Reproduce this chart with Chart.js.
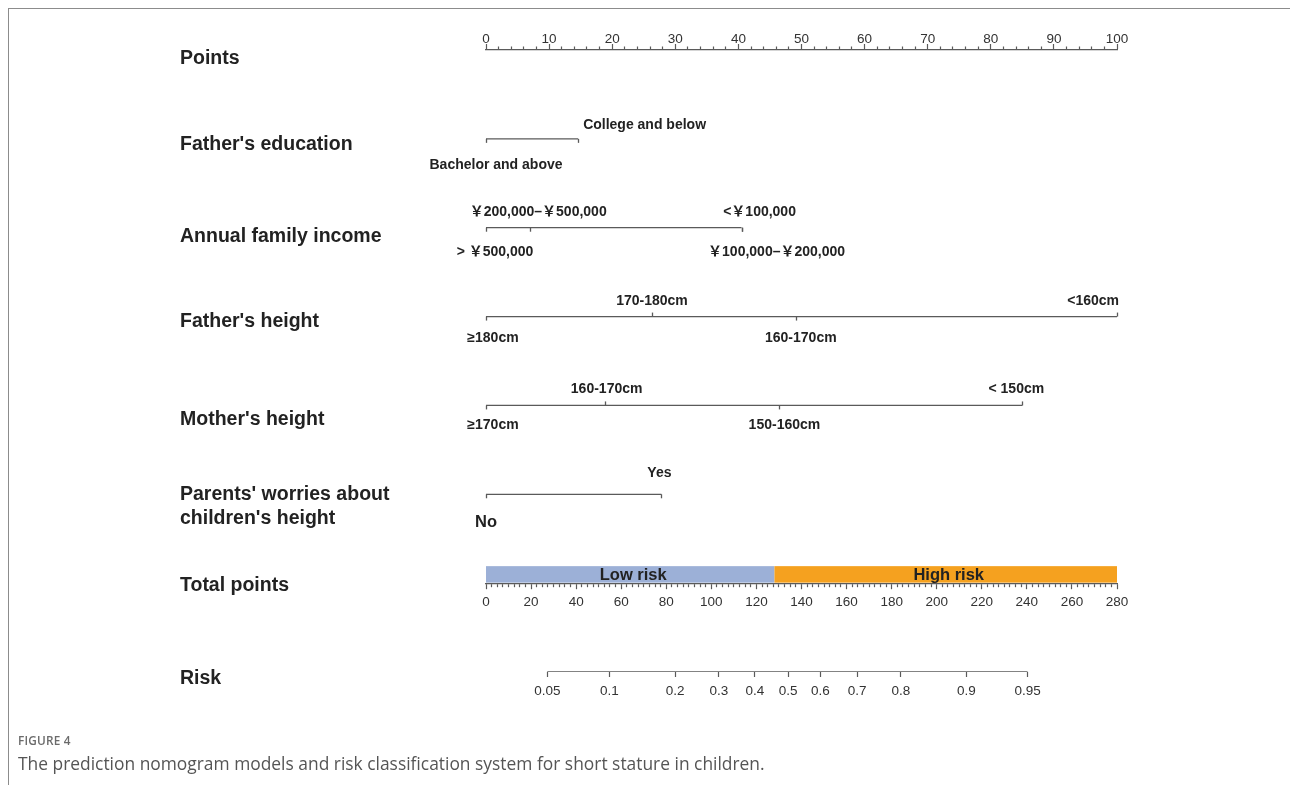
<!DOCTYPE html>
<html>
<head>
<meta charset="utf-8">
<script src="https://cdn.jsdelivr.net/npm/chart.js@4.4.1/dist/chart.umd.min.js"></script>
<style>
html,body{margin:0;padding:0;background:#fff;}
#wrap{position:relative;width:1290px;height:785px;overflow:hidden;background:#fff;}
#frame{position:absolute;left:8px;top:8px;width:1300px;height:800px;border-left:1px solid #8c8c8c;border-top:1px solid #8c8c8c;box-sizing:border-box;}
#c{position:absolute;left:0;top:0;}
#fig{position:absolute;left:18px;top:732px;font-family:"Open Sans",sans-serif;font-weight:600;font-size:11.8px;color:#6b6b6b;letter-spacing:0.2px;white-space:nowrap;}
#cap{position:absolute;left:18px;top:751px;font-family:"Open Sans",sans-serif;font-size:17.4px;color:#555;white-space:nowrap;}
</style>
</head>
<body>
<div id="wrap">
  <div id="frame"></div>
  <canvas id="c" width="1290" height="785"></canvas>
  <div id="fig">FIGURE 4</div>
  <div id="cap">The prediction nomogram models and risk classification system for short stature in children.</div>
</div>
<script>
// ---------------- data ----------------
const rowNames = ["Points", "Father's education", "Annual family income", "Father's height",
  "Mother's height", ["Parents' worries about", "children's height"], "Total points", "Risk"];

const eduLevels = ["Bachelor and above", "College and below"];
const eduPoints = [0, 14.6];

const incomeLevels = ["> ￥500,000", "￥200,000–￥500,000", "￥100,000–￥200,000", "<￥100,000"];
const incomePoints = [0, 7.0, 40.5, 40.5];

const fatherHeightLevels = ["≥180cm", "170-180cm", "160-170cm", "<160cm"];
const fatherHeightPoints = [0, 26.3, 49.1, 100];

const motherHeightLevels = ["≥170cm", "160-170cm", "150-160cm", "< 150cm"];
const motherHeightPoints = [0, 18.8, 46.5, 85.0];

const worryLevels = ["No", "Yes"];
const worryPoints = [0, 27.8];

const pointsMax = 100;
const totalPointsMax = 280;
const riskCutoff = 128;
const riskGroups = ["Low risk", "High risk"];

const riskLabels = ["0.05", "0.1", "0.2", "0.3", "0.4", "0.5", "0.6", "0.7", "0.8", "0.9", "0.95"];
const riskTotalPoints = [27.2, 54.7, 83.9, 103.3, 119.3, 134.1, 148.4, 164.7, 184.1, 213.2, 240.3];

// ---------------- styling (not data) ----------------
const LINE = '#5a5a5a';
const TEXT = '#222222';
const NUMFONT = {family: 'Liberation Sans', size: 13.5};
const ROW_LABEL_NUDGE = [9, 6, 9, 5, 14, 12, 2, 7];   // px, vertical placement of row titles
const ROW_PX = 88.857;                                 // px per row (used only for title nudges)
const levelRows = [
  {row: 1, levels: eduLevels, pts: eduPoints,
   side: ['b', 'a'], dir: ['d', 'd'], align: ['center', 'left'], nudge: [10, 5], dy: {a: -14, b: 26}},
  {row: 2, levels: incomeLevels, pts: incomePoints,
   side: ['b', 'a', 'b', 'a'], dir: ['d', 'd', 'd', 'd'], align: ['center', 'center', 'center', 'center'], nudge: [9, 8, 35, 18], dy: {a: -16, b: 24}},
  {row: 3, levels: fatherHeightLevels, pts: fatherHeightPoints,
   side: ['b', 'a', 'b', 'a'], dir: ['d', 'u', 'd', 'u'], align: ['center', 'center', 'center', 'right'], nudge: [7, 0, 5, 2], dy: {a: -15, b: 22}},
  {row: 4, levels: motherHeightLevels, pts: motherHeightPoints,
   side: ['b', 'a', 'b', 'a'], dir: ['d', 'u', 'd', 'u'], align: ['center', 'center', 'center', 'center'], nudge: [7, 2, 5, -6], dy: {a: -16, b: 20}},
  {row: 5, levels: worryLevels, pts: worryPoints,
   side: ['b', 'a'], dir: ['d', 'd'], align: ['center', 'center'], nudge: [0, -2], dy: {a: -21, b: 28}, sizes: [16.5, 14]}
];

// ---------------- datasets ----------------
const datasets = levelRows.map(r => ({
  data: [{x: Math.min(...r.pts), y: r.row}, {x: Math.max(...r.pts), y: r.row}],
  xAxisID: 'x', yAxisID: 'y',
  borderColor: LINE, borderWidth: 1.3, pointRadius: 0, fill: false
}));
datasets.push({
  data: [{x: riskTotalPoints[0], y: 7}, {x: riskTotalPoints[riskTotalPoints.length - 1], y: 7}],
  xAxisID: 'xt', yAxisID: 'y',
  borderColor: LINE, borderWidth: 1.3, pointRadius: 0, fill: false
});

// ---------------- plugin for labels / risk bar ----------------
const nomoPlugin = {
  id: 'nomo',
  beforeDatasetsDraw(chart) {
    const ctx = chart.ctx, xt = chart.scales.xt, y = chart.scales.y;
    const yb = y.getPixelForValue(6);
    const h = 17;
    const bounds = [0, riskCutoff, totalPointsMax];
    const cols = ['#9cb0d7', '#f5a11f'];
    ctx.save();
    for (let i = 0; i < 2; i++) {
      const x0 = xt.getPixelForValue(bounds[i]), x1 = xt.getPixelForValue(bounds[i + 1]);
      ctx.fillStyle = cols[i];
      ctx.fillRect(x0, yb - h, x1 - x0, h - 0.5);
    }
    ctx.fillStyle = TEXT;
    ctx.font = 'bold 16.5px "Liberation Sans"';
    ctx.textAlign = 'center';
    ctx.textBaseline = 'middle';
    for (let i = 0; i < 2; i++) {
      const xm = xt.getPixelForValue((bounds[i] + bounds[i + 1]) / 2);
      ctx.fillText(riskGroups[i], xm + 3, yb - h / 2 + 1);
    }
    ctx.restore();
  },
  afterDatasetsDraw(chart) {
    const ctx = chart.ctx, xs = chart.scales.x, y = chart.scales.y;
    ctx.save();
    ctx.strokeStyle = LINE;
    ctx.lineWidth = 1.3;
    ctx.fillStyle = TEXT;
    ctx.textBaseline = 'middle';
    levelRows.forEach(r => {
      const py = y.getPixelForValue(r.row);
      r.pts.forEach((p, i) => {
        const px = Math.round(xs.getPixelForValue(p)) + 0.5;
        const tl = 4;
        ctx.beginPath();
        ctx.moveTo(px, py);
        ctx.lineTo(px, r.dir[i] === 'u' ? py - tl : py + tl);
        ctx.stroke();
        const size = r.sizes ? r.sizes[i] : 14;
        ctx.font = 'bold ' + size + 'px "Liberation Sans", "Noto Sans CJK SC"';
        ctx.textAlign = r.align[i];
        const ly = py + (r.side[i] === 'a' ? r.dy.a : r.dy.b);
        ctx.fillText(r.levels[i], xs.getPixelForValue(p) + r.nudge[i], ly);
      });
    });
    ctx.restore();
  }
};

new Chart(document.getElementById('c'), {
  type: 'line',
  data: {datasets},
  plugins: [nomoPlugin],
  options: {
    responsive: false,
    animation: false,
    devicePixelRatio: 1,
    layout: {padding: {left: 180, right: 173, top: 10, bottom: 113}},
    plugins: {legend: {display: false}, tooltip: {enabled: false}},
    scales: {
      x: {
        type: 'linear', position: 'top', min: 0, max: pointsMax,
        afterFit: s => { s.height = 40; },
        border: {display: true, color: LINE, width: 1.3},
        grid: {
          drawOnChartArea: false, tickLength: 6, tickColor: LINE, tickWidth: 1.2,
          tickBorderDash: c => (c.tick && c.tick.value % 10 === 0) ? [] : [0, 2.5, 20]
        },
        ticks: {
          stepSize: 2, autoSkip: false, maxRotation: 0, padding: -3, color: '#333', font: NUMFONT,
          callback: v => (v % 10 === 0 ? String(v) : '')
        }
      },
      xt: {
        type: 'linear', axis: 'x', position: {y: 6}, min: 0, max: totalPointsMax,
        border: {display: true, color: LINE, width: 1.2},
        grid: {
          drawOnChartArea: false, tickLength: 5, tickColor: LINE, tickWidth: 1.2,
          tickBorderDash: c => (c.tick && c.tick.value % 20 === 0) ? [] : [3, 20]
        },
        ticks: {
          stepSize: 2.5, autoSkip: false, maxRotation: 0, padding: 6, color: '#333', font: NUMFONT,
          callback: v => (v % 20 === 0 ? String(v) : '')
        }
      },
      xr: {
        type: 'linear', axis: 'x', position: {y: 7}, min: 0, max: totalPointsMax,
        afterBuildTicks: s => { s.ticks = riskTotalPoints.map(v => ({value: v})); },
        border: {display: false},
        grid: {drawOnChartArea: false, tickLength: 5, tickColor: LINE, tickWidth: 1.2},
        ticks: {
          autoSkip: false, maxRotation: 0, padding: 6, color: '#333', font: NUMFONT,
          callback: (v, i) => riskLabels[i]
        }
      },
      y: {
        type: 'linear', position: 'left', min: 0, max: 7, reverse: true,
        afterBuildTicks: s => { s.ticks = rowNames.map((n, i) => ({value: i + ROW_LABEL_NUDGE[i] / ROW_PX})); },
        afterFit: s => { s.width = 306; },
        border: {display: false},
        grid: {display: false},
        ticks: {
          autoSkip: false, crossAlign: 'far', color: TEXT,
          font: {family: 'Liberation Sans', size: 19.5, weight: 'bold', lineHeight: 1.24},
          callback: (v, i) => rowNames[i]
        }
      }
    }
  }
});
</script>
</body>
</html>
